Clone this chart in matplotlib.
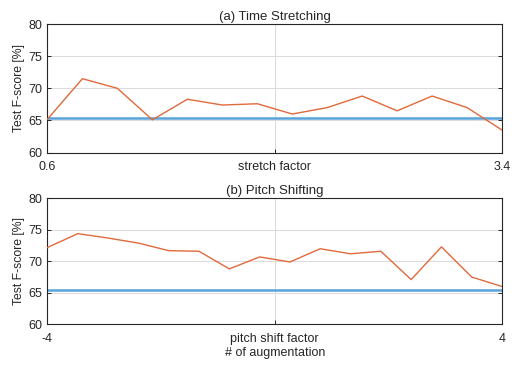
import matplotlib
matplotlib.use("Agg")
import matplotlib.pyplot as plt
import numpy as np

plt.rcParams['font.family'] = ['Liberation Sans', 'DejaVu Sans']

# augmentation settings (1.0 stretch and 0 shift are the original audio, left out)
stretch_factors = [0.6, 0.8, 1.2, 1.4, 1.6, 1.8, 2.0, 2.2, 2.4, 2.6, 2.8, 3.0, 3.2, 3.4]
stretch_scores = [65.2, 71.5, 70.0, 65.1, 68.3, 67.4, 67.6, 66.0, 67.0, 68.8, 66.5, 68.8, 67.0, 63.5]

pitch_shifts = [-4, -3.5, -3, -2.5, -2, -1.5, -1, -0.5, 0.5, 1, 1.5, 2, 2.5, 3, 3.5, 4]
pitch_scores = [72.2, 74.4, 73.7, 72.9, 71.7, 71.6, 68.8, 70.7, 69.9, 72.0, 71.2, 71.6, 67.1, 72.3, 67.5, 66.0]

baseline = 65.4  # no augmentation

orange = '#E06A3C'
blue = '#58A3DA'
txt = '#262626'

fig = plt.figure(figsize=(5.16, 3.65), dpi=100)
ax1 = fig.add_axes([0.092, 0.582, 0.881, 0.352])
ax2 = fig.add_axes([0.092, 0.1115, 0.881, 0.345])

panels = [
    (ax1, stretch_factors, stretch_scores, '(a) Time Stretching', 'stretch factor'),
    (ax2, pitch_shifts, pitch_scores, '(b) Pitch Shifting', 'pitch shift factor'),
]

for ax, factors, scores, title, name in panels:
    x = np.arange(len(scores))
    ax.axhline(baseline, color=blue, lw=1.8, zorder=2)
    ax.plot(x, scores, color=orange, lw=1.0, zorder=3)
    ax.set_xlim(x[0], x[-1])
    ax.set_ylim(60, 80)
    ax.set_yticks([60, 65, 70, 75, 80])
    ax.set_xticks([x[0], (x[0] + x[-1]) / 2, x[-1]])
    ax.set_xticklabels([f'{factors[0]:g}', name, f'{factors[-1]:g}'])
    ax.grid(True, color='#dcdcdc', lw=0.8, zorder=0)
    ax.set_axisbelow(True)
    ax.tick_params(direction='in', length=3, width=0.7, colors='#262626',
                   labelsize=9, top=False, right=True)
    ax.tick_params(axis='x', pad=6)
    ax.tick_params(axis='y', pad=4)
    for s in ax.spines.values():
        s.set_color('#262626')
        s.set_linewidth(0.8)
    ax.set_title(title, fontsize=9.5, color=txt, pad=3)
    ax.set_ylabel('Test F-score [%]', fontsize=8.8, color=txt, labelpad=2)

ax2.set_xlabel('# of augmentation', fontsize=9, color=txt, labelpad=2)

fig.savefig('out.png', dpi=100)
